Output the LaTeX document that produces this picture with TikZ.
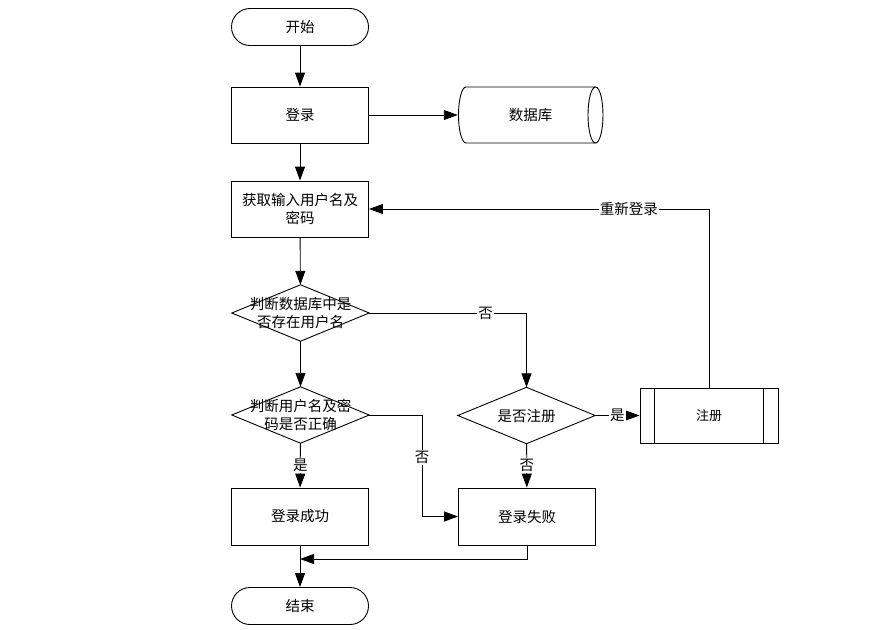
\documentclass[tikz,border=0pt]{standalone}
\usepackage{fontspec}
\setmainfont{Noto Sans CJK SC}
\usetikzlibrary{arrows.meta}
\begin{document}
\begin{tikzpicture}[x=1pt,y=-1pt,
  every node/.style={font=\fontsize{14.5}{18}\selectfont, inner sep=0pt},
  box/.style={draw, line width=0.9pt, minimum width=137pt, minimum height=56pt, align=center},
  term/.style={draw, line width=0.9pt, minimum width=137pt, minimum height=37pt, rounded corners=18.5pt},
  frame/.style={minimum width=137pt, minimum height=56pt, align=center},
  arr/.style={line width=0.9pt, -{Triangle[length=14pt,width=10pt]}},
  lbl/.style={fill=white, inner sep=1pt}]
\useasboundingbox (0,0) rectangle (875,629);

\node[term] (start) at (300,27) {开始};
\node[box] (login) at (300,115) {登录};
\node[frame, minimum width=145pt] (db) at (530.5,115) {数据库};
\node[box] (input) at (300,209) {获取输入用户名及\\密码};
\node[frame] (d1) at (300.5,313) {判断数据库中是\\否存在用户名};
\node[frame] (d2) at (300.5,415) {判断用户名及密\\码是否正确};
\node[frame] (d3) at (526.5,415.5) {是否注册};
\node[box, minimum width=138pt, minimum height=55pt] (reg) at (709,415.5) {\fontsize{13}{16}\selectfont 注册};
\node[box, minimum height=57pt] (ok) at (300,516.5) {登录成功};
\node[box, minimum height=57pt] (fail) at (527,516.5) {登录失败};
\node[term] (end) at (300,606) {结束};
\coordinate (join) at (300,559);

% cylinder (database)
\draw[line width=0.9pt] (595.5,87) -- (466,87) arc[start angle=90, end angle=270, x radius=7.5pt, y radius=28pt] -- (595.5,143);
\draw[line width=0.9pt] (595.5,115) ellipse [x radius=7.5pt, y radius=28pt];

% diamonds
\foreach \d in {d1,d2,d3}
  \draw[line width=0.9pt] (\d.north) -- (\d.east) -- (\d.south) -- (\d.west) -- cycle;

% predefined process inner lines
\draw[line width=0.9pt] ([xshift=15pt]reg.north west) -- ([xshift=15pt]reg.south west);
\draw[line width=0.9pt] ([xshift=-15pt]reg.north east) -- ([xshift=-15pt]reg.south east);

% connectors
\draw[arr] (start) -- (login);
\draw[arr] (login) -- (db);
\draw[arr] (login) -- (input);
\draw[arr] (input) -- (d1);
\draw[arr] (d1.east) -| node[lbl, pos=0.37] {否} (d3.north);
\draw[arr] (d1) -- (d2);
\draw[arr] (d2.east) -- (422,415) |- node[lbl, pos=0.21] {否} (fail.west);
\draw[arr] (d2) -- node[lbl] {是} (ok);
\draw[arr] (d3) -- node[lbl] {否} (fail);
\draw[arr] (d3) -- node[lbl] {是} (reg);
\draw[arr] (reg.north) |- node[lbl, pos=0.618] {重新登录} (input.east);
\draw[arr] (fail.south) |- (join);
\draw[arr] (ok) -- (end);
\end{tikzpicture}
\end{document}
